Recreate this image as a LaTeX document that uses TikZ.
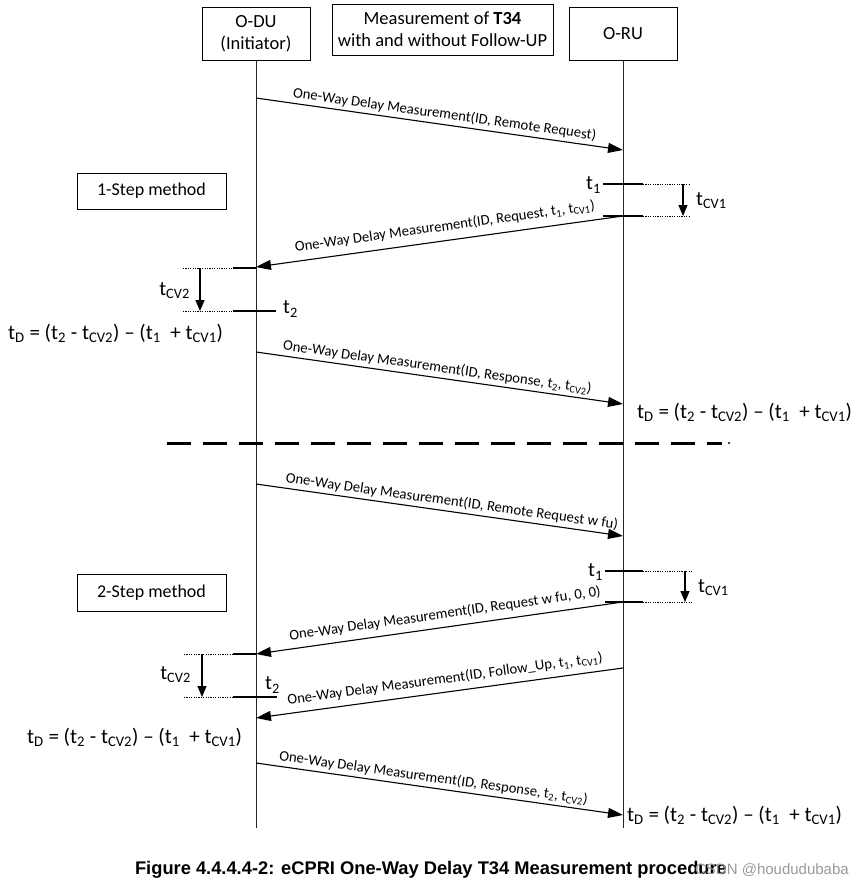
\documentclass[tikz,border=0pt]{standalone}
\usepackage{fontspec}
\setmainfont{Carlito}
\newfontfamily\capfont{Liberation Sans}
\usetikzlibrary{arrows.meta}
\begin{document}
\begin{tikzpicture}[x=1pt,y=-1pt,
  box/.style={draw, line width=0.9pt, inner sep=0pt, align=center},
  life/.style={line width=1pt, draw=black!85},
  msg/.style={line width=1.1pt, -{Triangle[length=15pt,width=10pt]}},
  msgr/.style={line width=1.1pt, {Triangle[length=15pt,width=10pt]}-},
  msgl/.style={font=\fontsize{14.7}{16}\selectfont, sloped, above=2pt, inner sep=1pt},
  tick/.style={line width=1.1pt},
  dotl/.style={line width=1pt, dash pattern=on 1.2pt off 1.2pt},
  cv/.style={line width=1.1pt, -{Triangle[length=11pt,width=9pt]}},
  lbl/.style={font=\fontsize{20.5}{22}\selectfont, inner sep=0pt},
  form/.style={font=\fontsize{21}{23}\selectfont, inner sep=0pt, anchor=west},
]
\useasboundingbox (0,0) rectangle (861,887);

% header boxes
\node[box, minimum width=108pt, minimum height=53pt, font=\fontsize{18.5}{22}\selectfont] (odu) at (256,33.5) {O-DU\\(Initiator)};
\node[box, minimum width=221pt, minimum height=51pt, font=\fontsize{18.5}{22}\selectfont] (meas) at (442.5,29.5) {Measurement of \textbf{T34}\\with and without Follow-UP};
\node[box, minimum width=108pt, minimum height=53pt, font=\fontsize{18.5}{22}\selectfont] (oru) at (623,33.5) {O-RU};

% lifelines
\coordinate (oduend) at (256,828);
\coordinate (oruend) at (623,828);
\draw[life] (odu.south) -- (oduend);
\draw[life] (oru.south) -- (oruend);

% method boxes
\node[box, minimum width=149pt, minimum height=36pt, font=\fontsize{18}{20}\selectfont] (m1) at (151.5,191) {1-Step method};
\node[box, minimum width=149pt, minimum height=37pt, font=\fontsize{18}{20}\selectfont] (m2) at (151.5,592.5) {2-Step method};

% ---------- 1-step ----------
\coordinate (a1) at (256,98);  \coordinate (b1) at (623,150);
\draw[msg] (a1) -- node[msgl, pos=0.51] {One-Way Delay Measurement(ID, Remote Request)} (b1);

% t1 / tCV1 at O-RU
\coordinate (p1a) at (603,184); \coordinate (p1b) at (643,184); \coordinate (p1c) at (690,184);
\coordinate (p2a) at (603,216); \coordinate (p2b) at (643,216); \coordinate (p2c) at (690,216);
\draw[tick] (p1a) -- (p1b); \draw[dotl] (p1b) -- (p1c);
\draw[tick] (p2a) -- (p2b); \draw[dotl] (p2b) -- (p2c);
\coordinate (v1a) at (683,184); \coordinate (v1b) at (683,216);
\draw[cv] (v1a) -- (v1b);
\node[lbl, anchor=east] (t1a) at (601,185) {t\textsubscript{1}};
\node[lbl, anchor=west] (cv1a) at (696,201) {t\textsubscript{CV1}};

\coordinate (a2) at (623,216); \coordinate (b2) at (256,267);
\draw[msgr] (b2) -- node[msgl, pos=0.52, above=4pt] {One-Way Delay Measurement(ID, Request, t\textsubscript{1}, t\textsubscript{CV1})} (a2);

% t2 / tCV2 at O-DU
\coordinate (q1a) at (183,268); \coordinate (q1b) at (233,268); \coordinate (q1c) at (256,268);
\coordinate (q2a) at (183,311); \coordinate (q2b) at (233,311); \coordinate (q2c) at (276,311);
\draw[dotl] (q1a) -- (q1b); \draw[tick] (q1b) -- (q1c);
\draw[dotl] (q2a) -- (q2b); \draw[tick] (q2b) -- (q2c);
\coordinate (v2a) at (200,268); \coordinate (v2b) at (200,311);
\draw[cv] (v2a) -- (v2b);
\node[lbl, anchor=west] (t2a) at (283,309) {t\textsubscript{2}};
\node[lbl, anchor=east] (cv2a) at (190,291) {t\textsubscript{CV2}};

\node[form] (f1) at (8,333) {t\textsubscript{D} = (t\textsubscript{2} - t\textsubscript{CV2}) – (t\textsubscript{1}\ \ + t\textsubscript{CV1})};

\coordinate (a3) at (256,352); \coordinate (b3) at (623,404);
\draw[msg] (a3) -- node[msgl, pos=0.49] {One-Way Delay Measurement(ID, Response, t\textsubscript{2}, t\textsubscript{CV2})} (b3);
\node[form] (f2) at (637,412) {t\textsubscript{D} = (t\textsubscript{2} - t\textsubscript{CV2}) – (t\textsubscript{1}\ \ + t\textsubscript{CV1})};

% separator
\coordinate (sepL) at (167,443); \coordinate (sepR) at (722,443);
\draw[line width=3pt, dash pattern=on 24pt off 12pt] (sepL) -- (sepR);
\fill (729,443) circle (1.2pt);

% ---------- 2-step ----------
\coordinate (a4) at (256,484); \coordinate (b4) at (623,536);
\draw[msg] (a4) -- node[msgl, pos=0.53] {One-Way Delay Measurement(ID, Remote Request w fu)} (b4);

\coordinate (r1a) at (605,571); \coordinate (r1b) at (643,571); \coordinate (r1c) at (693,571);
\coordinate (r2a) at (605,602); \coordinate (r2b) at (643,602); \coordinate (r2c) at (693,602);
\draw[tick] (r1a) -- (r1b); \draw[dotl] (r1b) -- (r1c);
\draw[tick] (r2a) -- (r2b); \draw[dotl] (r2b) -- (r2c);
\coordinate (v3a) at (685,571); \coordinate (v3b) at (685,602);
\draw[cv] (v3a) -- (v3b);
\node[lbl, anchor=east] (t1b) at (603,572) {t\textsubscript{1}};
\node[lbl, anchor=west] (cv1b) at (698,588) {t\textsubscript{CV1}};

\coordinate (a5) at (623,602); \coordinate (b5) at (256,654);
\draw[msgr] (b5) -- node[msgl, pos=0.52, above=3pt] {One-Way Delay Measurement(ID, Request w fu, 0, 0)} (a5);

\coordinate (a6) at (623,668); \coordinate (b6) at (256,718);
\draw[msgr] (b6) -- node[msgl, pos=0.52, above=3pt] {One-Way Delay Measurement(ID, Follow\_Up, t\textsubscript{1}, t\textsubscript{CV1})} (a6);

\coordinate (s1a) at (184,654); \coordinate (s1b) at (233,654); \coordinate (s1c) at (256,654);
\coordinate (s2a) at (184,697); \coordinate (s2b) at (233,697); \coordinate (s2c) at (277,697);
\draw[dotl] (s1a) -- (s1b); \draw[tick] (s1b) -- (s1c);
\draw[dotl] (s2a) -- (s2b); \draw[tick] (s2b) -- (s2c);
\coordinate (v4a) at (202,654); \coordinate (v4b) at (202,697);
\draw[cv] (v4a) -- (v4b);
\node[lbl, anchor=west] (t2b) at (265,685) {t\textsubscript{2}};
\node[lbl, anchor=east] (cv2b) at (191,675) {t\textsubscript{CV2}};

\node[form] (f3) at (27,737) {t\textsubscript{D} = (t\textsubscript{2} - t\textsubscript{CV2}) – (t\textsubscript{1}\ \ + t\textsubscript{CV1})};

\coordinate (a7) at (256,763); \coordinate (b7) at (623,815);
\draw[msg] (a7) -- node[msgl, pos=0.48] {One-Way Delay Measurement(ID, Response, t\textsubscript{2}, t\textsubscript{CV2})} (b7);
\node[form] (f4) at (627,815) {t\textsubscript{D} = (t\textsubscript{2} - t\textsubscript{CV2}) – (t\textsubscript{1}\ \ + t\textsubscript{CV1})};

% caption
\node[font=\capfont\bfseries\fontsize{18.3}{20}\selectfont, inner sep=0pt] (cap) at (431,870) {Figure 4.4.4.4-2: eCPRI One-Way Delay T34 Measurement procedure};
\node[font=\capfont\fontsize{15}{17}\selectfont, text=black!40, anchor=east, inner sep=0pt] (wm) at (849,870) {CSDN @hoududubaba};
\end{tikzpicture}
\end{document}
